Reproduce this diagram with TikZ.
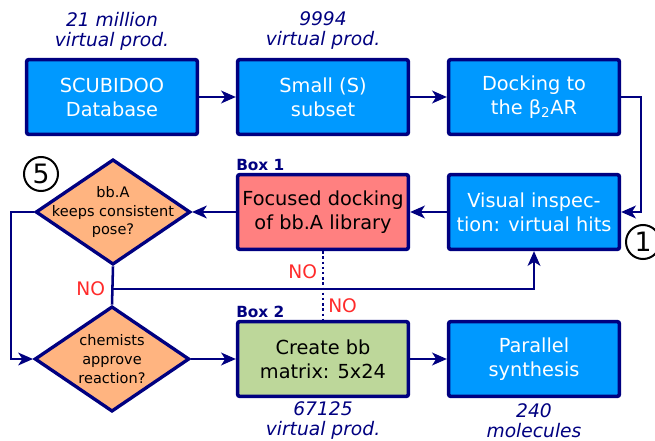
\documentclass[tikz,border=0pt]{standalone}
\usepackage{fontspec}
\setmainfont{DejaVu Sans}
\usetikzlibrary{positioning, shapes.geometric, arrows.meta, calc}

\definecolor{navy}{RGB}{0,0,128}
\definecolor{boxblue}{RGB}{0,153,255}
\definecolor{salmon}{RGB}{255,128,128}
\definecolor{leaf}{RGB}{189,215,154}
\definecolor{apricot}{RGB}{255,180,128}
\definecolor{nored}{RGB}{255,42,42}

\begin{document}
\begin{tikzpicture}[x=0.75pt, y=-0.75pt, >={Stealth[length=11pt,width=9.5pt,inset=3pt]},
  stage/.style={rectangle, draw=navy, line width=2.7pt, rounded corners=1.5pt,
    minimum width=128pt, minimum height=56pt, inner sep=0pt, align=center,
    font=\fontsize{14.5}{18}\selectfont},
  bluestage/.style={stage, fill=boxblue, text=white},
  decision/.style={diamond, draw=navy, line width=2.5pt, fill=apricot,
    minimum width=116pt, minimum height=79pt, inner sep=0pt},
  decisiontext/.style={align=center, inner sep=0pt, font=\fontsize{10.9}{14.2}\selectfont},
  flow/.style={->, color=navy, line width=1.9pt},
  probe/.style={color=navy, line width=1.9pt, dotted},
  count/.style={align=center, text=navy, inner sep=0pt, font=\itshape\fontsize{14}{15}\selectfont},
  nolabel/.style={text=nored, inner sep=0pt, font=\fontsize{14}{16}\selectfont},
  boxtag/.style={text=navy, inner sep=0pt, anchor=base west, font=\bfseries\fontsize{11.5}{13}\selectfont},
  stepnum/.style={circle, draw=black, line width=1.5pt, fill=white, minimum size=25.5pt,
    inner sep=0pt, font=\fontsize{20}{20}\selectfont},
]
  \useasboundingbox (0,0) rectangle (655,441);

  % top row: from the database to the docking run
  \node[bluestage] (scubidoo) at (112,97) {SCUBIDOO\\Database};
  \node[bluestage] (subset) at (323,97) {Small (S)\\subset};
  \node[bluestage] (docking) at (534,97) {Docking to\\the β\textsubscript{2}AR};
  \node[count] (dbcount) at (112,31) {21 million\\virtual prod.};
  \node[count] (subcount) at (323,31) {9994\\virtual prod.};

  % middle row
  \node[bluestage] (inspect) at (534,212) {Visual inspec-\\tion: virtual hits};
  \node[stage, fill=salmon] (focused) at (323,212) {Focused docking\\of bb.A library};
  \node[decision] (pose) at (113,212) {};
  \node[decisiontext] (posetext) at (pose) {bb.A\\keeps consistent\\pose?};
  \node[boxtag] (boxone) at (236,171) {Box 1};

  % bottom row
  \node[decision] (approve) at (112,359) {};
  \node[decisiontext] (approvetext) at (approve) {chemists\\approve\\reaction?};
  \node[stage, fill=leaf] (matrix) at (323,359) {Create bb\\matrix: 5x24};
  \node[bluestage] (synthesis) at (534,359) {Parallel\\synthesis};
  \node[boxtag] (boxtwo) at (236,317) {Box 2};
  \node[count] (matcount) at (323,421) {67125\\virtual prod.};
  \node[count] (molcount) at (534,421) {240\\molecules};

  % step markers
  \node[stepnum] (stepfive) at (41,174) {5};
  \node[stepnum] (stepone) at (643,242) {1};

  % connectors
  \path[flow]
    (scubidoo) edge (subset)
    (subset) edge (docking)
    (inspect) edge (focused)
    (focused) edge (pose)
    (approve) edge (matrix)
    (matrix) edge (synthesis);
  \draw[flow] (docking.east) -- ++(20,0) |- (inspect.east);
  \draw[flow] (pose.west) -- ++(-23,0) |- (approve.west);
  \draw[flow, -] (pose.south) -- (approve.north);
  \coordinate (nofork) at (pose.south |- 0,289);
  \draw[flow] (nofork) node[nolabel, anchor=east, xshift=-5pt] {NO} -| (inspect.south);
  \draw[probe] (focused.south) -- (matrix.north)
    node[nolabel, pos=0.3, left=3.5pt] {NO}
    node[nolabel, pos=0.8, right=3pt] {NO};
\end{tikzpicture}
\end{document}
